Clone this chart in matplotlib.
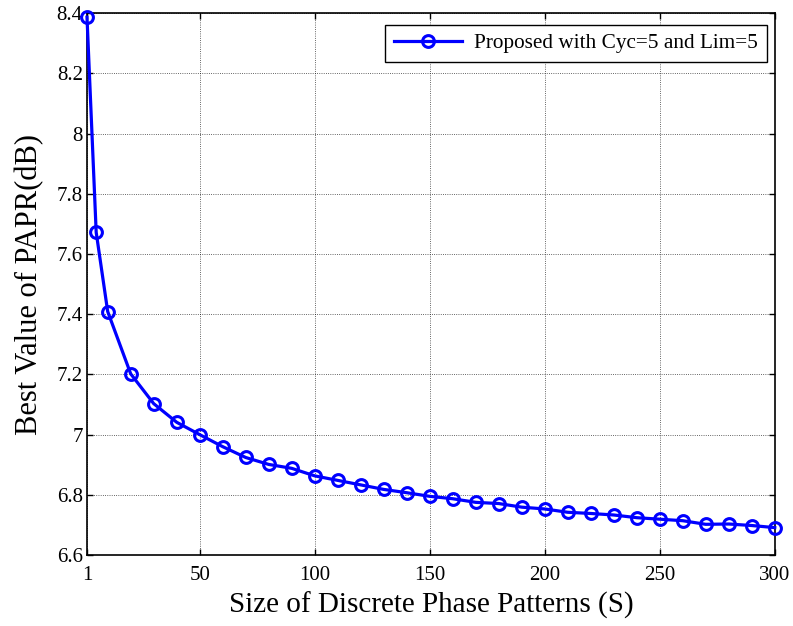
import matplotlib
matplotlib.use("Agg")
import matplotlib.pyplot as plt

# discrete phase pattern sizes and best PAPR
sizes = [1, 5, 10, 20, 30, 40, 50, 60, 70, 80, 90, 100, 110, 120, 130, 140,
         150, 160, 170, 180, 190, 200, 210, 220, 230, 240, 250, 260, 270,
         280, 290, 300]
papr = [8.387, 7.672, 7.409, 7.202, 7.103, 7.041, 7.000, 6.960, 6.924, 6.901,
        6.888, 6.863, 6.848, 6.833, 6.818, 6.807, 6.795, 6.787, 6.775, 6.771,
        6.759, 6.753, 6.742, 6.738, 6.733, 6.724, 6.719, 6.714, 6.702, 6.703,
        6.698, 6.691]

xticks = [1, 50, 100, 150, 200, 250, 300]
yticks = [6.6, 6.8, 7.0, 7.2, 7.4, 7.6, 7.8, 8.0, 8.2, 8.4]
ytick_labels = ["6.6", "6.8", "7", "7.2", "7.4", "7.6", "7.8", "8", "8.2", "8.4"]

plt.rcParams['font.family'] = ['Liberation Serif', 'DejaVu Serif']

fig = plt.figure(figsize=(7.93, 6.26), dpi=100)
ax = fig.add_axes([0.1097, 0.1134, 0.977 - 0.1097, 0.9788 - 0.1134])

ax.plot(sizes, papr, color='blue', linewidth=2.3, marker='o', markersize=8.5,
        markerfacecolor='none', markeredgewidth=2.2, markeredgecolor='blue',
        label='Proposed with Cyc=5 and Lim=5', clip_on=False, zorder=3)

ax.set_xlim(1, 300)
ax.set_ylim(6.6, 8.4)
ax.set_xticks(xticks)
ax.set_yticks(yticks)
ax.set_yticklabels(ytick_labels)
ax.tick_params(direction='in', top=True, right=True, length=4, width=1,
               labelsize=15)
ax.tick_params(axis='x', pad=8)
ax.tick_params(axis='y', pad=3)

ax.grid(True, color='black', linestyle=':', linewidth=0.6, alpha=0.8)
for s in ax.spines.values():
    s.set_linewidth(1.2)

ax.set_xlabel('Size of Discrete Phase Patterns (S)', fontsize=21, labelpad=5)
ax.set_ylabel('Best Value of PAPR(dB)', fontsize=22, labelpad=9)

leg = ax.legend(loc='upper right', fontsize=15.3, frameon=True, fancybox=False,
                edgecolor='black', framealpha=1, handlelength=3.2,
                borderpad=0.4, borderaxespad=0, handletextpad=0.6,
                bbox_to_anchor=(0.9884, 0.9784))
leg.get_frame().set_linewidth(1.0)

fig.savefig('out.png', dpi=100)
